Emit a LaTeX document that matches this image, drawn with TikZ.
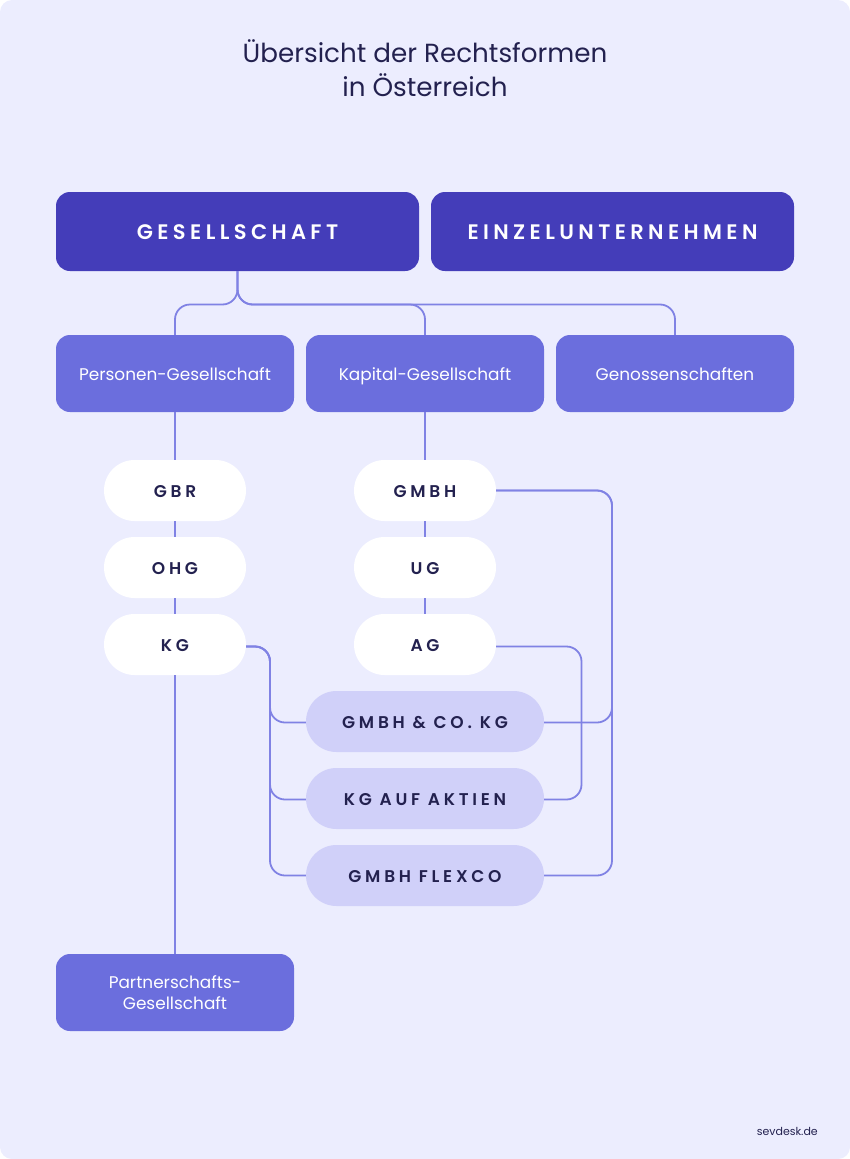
\documentclass[tikz,border=0pt]{standalone}
\usepackage{fontspec}
\setmainfont{Poppins}
\newfontfamily\capsfont[LetterSpace=21,UprightFont=* SemiBold]{Poppins}
\newfontfamily\pillfont[LetterSpace=22,UprightFont=* SemiBold]{Poppins}
\usepackage{tikz}
\usetikzlibrary{positioning,shapes.misc}
\definecolor{pagebg}{HTML}{ECEDFE}
\definecolor{darkbox}{HTML}{443DB9}
\definecolor{midbox}{HTML}{6B6EDD}
\definecolor{lavbox}{HTML}{D0D0F9}
\definecolor{inktext}{HTML}{23214F}
\definecolor{linkline}{HTML}{8082E4}
\tikzset{
  topbox/.style={fill=darkbox,text=white,rounded corners=14pt,minimum width=363pt,minimum height=79pt,inner sep=0pt,text height=15pt,text depth=0pt,font=\capsfont\fontsize{21}{22}\selectfont},
  midnode/.style={fill=midbox,text=white,rounded corners=14pt,minimum width=238pt,minimum height=77pt,inner sep=0pt,align=center,font=\fontsize{16.9}{21}\selectfont},
  oneline/.style={text height=15pt,text depth=2pt},
  whitepill/.style={rounded rectangle,fill=white,text=inktext,minimum width=142pt,minimum height=61pt,inner sep=0pt,text height=13pt,text depth=0pt,font=\pillfont\fontsize{17}{18}\selectfont},
  lavpill/.style={rounded rectangle,fill=lavbox,text=inktext,minimum width=238pt,minimum height=61pt,inner sep=0pt,text height=13pt,text depth=0pt,font=\pillfont\fontsize{17}{18}\selectfont},
  conn/.style={draw=linkline,line width=1.8pt,rounded corners=15pt}
}

\begin{document}
\begin{tikzpicture}[x=1pt,y=-1pt,node distance=77pt]
  \fill[pagebg,rounded corners=12pt] (0,0) rectangle (850,1159);

  \node [text=inktext,align=center,font=\fontsize{26.2}{34}\selectfont] (title) at (425,68) {Übersicht der Rechtsformen\\in Österreich};

  \node [topbox] (ges) at (237.5,231.5) {GESELLSCHAFT};
  \node [topbox,right of=ges,node distance=375pt] (einzel) {EINZELUNTERNEHMEN};

  \node [midnode,oneline] (pers) at (175,373.5) {Personen-Gesellschaft};
  \node [midnode,oneline,right of=pers,node distance=250pt] (kap) {Kapital-Gesellschaft};
  \node [midnode,oneline,right of=kap,node distance=250pt] (gen) {Genossenschaften};

  \node [whitepill,below of=pers,node distance=117pt] (gbr) {GBR};
  \node [whitepill,below of=gbr] (ohg) {OHG};
  \node [whitepill,below of=ohg] (kg) {KG};

  \node [whitepill,below of=kap,node distance=117pt] (gmbh) {GMBH};
  \node [whitepill,below of=gmbh] (ug) {UG};
  \node [whitepill,below of=ug] (ag) {AG};

  \node [lavpill,below of=ag] (co) {GMBH \& CO. KG};
  \node [lavpill,below of=co] (aktien) {KG AUF AKTIEN};
  \node [lavpill,below of=aktien] (flexco) {GMBH FLEXCO};

  \node [midnode] (partner) at (175,992.5) {Partnerschafts-\\Gesellschaft};

  \node [text=inktext,anchor=east,inner sep=0pt,font=\fontsize{11}{13}\selectfont] (site) at (818,1131) {sevdesk.de};

  \coordinate (bus) at (0,304.5);
  \coordinate (leftrail) at (270,0);
  \coordinate (midrail) at (581.5,0);
  \coordinate (rightrail) at (612,0);
  \coordinate (kgout) at ([yshift=-2pt]kg.east);
  \coordinate (agout) at ([yshift=-2pt]ag.east);
  \coordinate (coleft) at ([yshift=-1pt]co.west);
  \coordinate (coright) at ([yshift=-1pt]co.east);
  \coordinate (aktleft) at ([yshift=-1pt]aktien.west);
  \coordinate (aktright) at ([yshift=-1pt]aktien.east);

  \draw [conn] (ges.south) |- (pers.north |- bus) -- (pers.north);
  \draw [conn] (ges.south) |- (kap.north |- bus) -- (kap.north);
  \draw [conn] (ges.south) |- (gen.north |- bus) -- (gen.north);

  \draw [conn] (pers) -- (gbr);
  \draw [conn] (gbr) -- (ohg);
  \draw [conn] (ohg) -- (kg);
  \draw [conn] (kg) -- (partner);
  \draw [conn] (kap) -- (gmbh);
  \draw [conn] (gmbh) -- (ug);
  \draw [conn] (ug) -- (ag);

  \draw [conn] (kgout) -| (leftrail |- coleft) -- (coleft);
  \draw [conn] (kgout) -| (leftrail |- aktleft) -- (aktleft);
  \draw [conn] (kgout) -| (leftrail |- flexco.west) -- (flexco.west);

  \draw [conn] (agout) -| (midrail |- aktright) -- (aktright);
  \draw [conn] (gmbh.east) -| (rightrail |- coright) -- (coright);
  \draw [conn] (gmbh.east) -| (rightrail |- flexco.east) -- (flexco.east);
\end{tikzpicture}
\end{document}
